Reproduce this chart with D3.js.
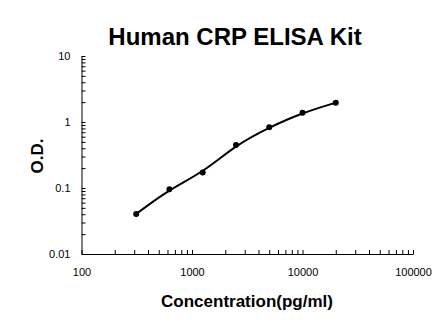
<!DOCTYPE html>
<html>
<head>
<meta charset="utf-8">
<script src="https://cdn.jsdelivr.net/npm/d3@7"></script>
<style>
  body { margin: 0; background: #fff; }
  text { font-family: Arial, "Liberation Sans", sans-serif; fill: #000; }
</style>
</head>
<body>
<svg id="chart" width="446" height="326"></svg>
<script>
const concentrations = [312.5, 625, 1250, 2500, 5000, 10000, 20000];
const odValues = [0.0404, 0.0955, 0.171, 0.449, 0.83, 1.38, 1.96];
const xTickLabels = [100, 1000, 10000, 100000];
const yTickLabels = [0.01, 0.1, 1, 10];

const svg = d3.select('#chart');

const x = d3.scaleLog().domain([100, 100000]).range([81.5, 413]);
const y = d3.scaleLog().domain([0.01, 10]).range([254, 56]);

// title + axis titles
svg.append('text')
  .attr('x', 235).attr('y', 45)
  .attr('text-anchor', 'middle')
  .attr('font-size', 24).attr('font-weight', 'bold')
  .text('Human CRP ELISA Kit');

svg.append('text')
  .attr('x', 247).attr('y', 307)
  .attr('text-anchor', 'middle')
  .attr('font-size', 17).attr('font-weight', 'bold')
  .text('Concentration(pg/ml)');

svg.append('text')
  .attr('transform', 'translate(43,156) rotate(-90)')
  .attr('text-anchor', 'middle')
  .attr('font-size', 17).attr('font-weight', 'bold')
  .text('O.D.');

// axes: every 1..9 tick, labels only on decades
const xAxis = svg.append('g')
  .attr('transform', `translate(0,${y.range()[0]})`)
  .call(d3.axisBottom(x)
    .tickValues(x.ticks())
    .tickSize(-4).tickSizeOuter(0).tickPadding(14)
    .tickFormat(d => xTickLabels.includes(d) ? d3.format('d')(d) : ''));

const yAxis = svg.append('g')
  .attr('transform', `translate(${x.range()[0]},0)`)
  .call(d3.axisLeft(y)
    .tickValues(y.ticks())
    .tickSize(-4).tickSizeOuter(0).tickPadding(11)
    .tickFormat(d => yTickLabels.includes(d) ? String(d) : ''));

[xAxis, yAxis].forEach(g => {
  g.selectAll('text').attr('font-size', 11).attr('fill', '#222')
    .style('font-family', 'Arial, "Liberation Sans", sans-serif');
  g.selectAll('line,path').attr('stroke', '#000').attr('stroke-width', 1);
  g.attr('font-family', null);
});

// smoothed standard curve + points
const pts = concentrations.map((c, i) => [c, odValues[i]]);

svg.append('path')
  .datum(pts)
  .attr('fill', 'none')
  .attr('stroke', '#000')
  .attr('stroke-width', 2)
  .attr('d', d3.line()
    .x(d => x(d[0]))
    .y(d => y(d[1]))
    .curve(d3.curveBasis));

svg.selectAll('circle')
  .data(pts)
  .join('circle')
  .attr('cx', d => x(d[0]))
  .attr('cy', d => y(d[1]))
  .attr('r', 3)
  .attr('fill', '#000');
</script>
</body>
</html>
